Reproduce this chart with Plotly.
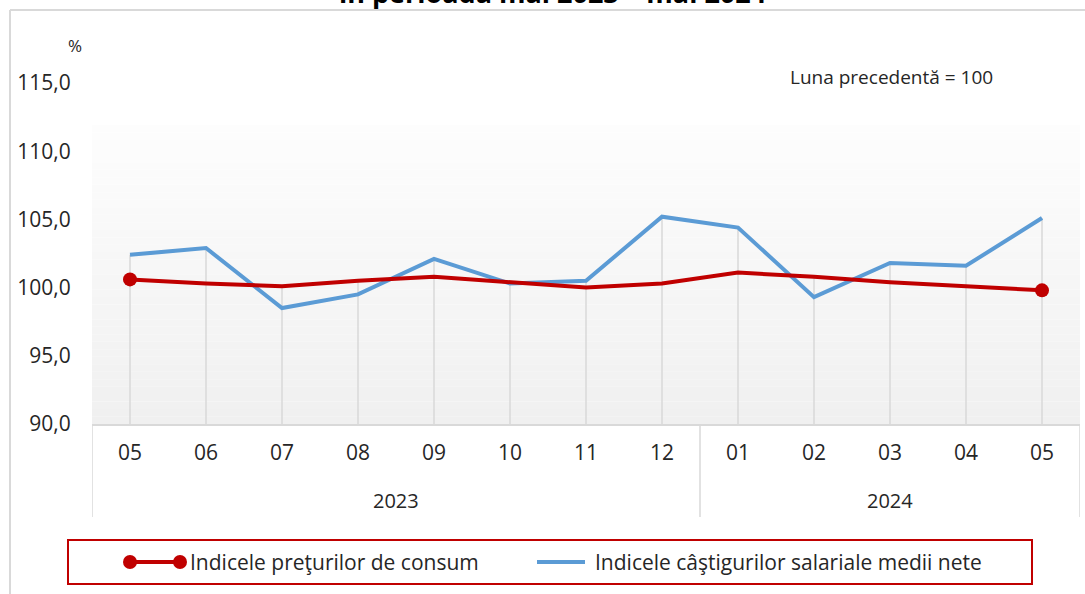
import plotly.graph_objects as go

# ---- data ----
years = ["2023"] * 8 + ["2024"] * 5
months = ["05", "06", "07", "08", "09", "10", "11", "12", "01", "02", "03", "04", "05"]
cpi = [100.6, 100.3, 100.1, 100.5, 100.8, 100.4, 100.0, 100.3, 101.1, 100.8, 100.4, 100.1, 99.8]
wages = [102.4, 102.9, 98.5, 99.5, 102.1, 100.3, 100.5, 105.2, 104.4, 99.3, 101.8, 101.6, 105.1]
cpi_name = "Indicele preţurilor de consum"
wage_name = "Indicele câştigurilor salariale medii nete"
y_ticks = [90, 95, 100, 105, 110, 115]

# ---- geometry (pixels) ----
W, H = 1085, 594
PL, PR, PT, PB = 92, 1080, 83, 424
FONT = "Open Sans"
TXT = "#262626"


def fx(px):
    return (px - PL) / (PR - PL)


def fy(py):
    return (PB - py) / (PB - PT)


xi = list(range(len(months)))
base = [y_ticks[0]] * len(months)
tops = [max(a, b) - y_ticks[0] for a, b in zip(cpi, wages)]

fig = go.Figure()

# drop lines from axis up to the higher series
fig.add_trace(go.Scatter(
    x=xi, y=base, mode="markers", marker=dict(size=0, opacity=0),
    error_y=dict(type="data", symmetric=False, array=tops, arrayminus=[0] * len(tops),
                 width=0, thickness=1.5, color="#d9d9d9"),
    hoverinfo="skip", showlegend=False,
))

fig.add_trace(go.Scatter(
    x=xi, y=wages, mode="lines", name=wage_name,
    line=dict(color="#5b9bd5", width=4), showlegend=False,
))

msize = [14] + [0] * (len(cpi) - 2) + [14]
fig.add_trace(go.Scatter(
    x=xi, y=cpi, mode="lines+markers", name=cpi_name,
    line=dict(color="#c00000", width=4),
    marker=dict(size=msize, color="#c00000", opacity=1, line=dict(width=0)),
    showlegend=False,
))

shapes = []
annotations = []
# gradient plot background
n = 40
g_top, g_bot = 125, PB
for i in range(n):
    t = i / (n - 1)
    c = int(round(253 - t * (253 - 240)))
    y0 = g_top + (g_bot - g_top) * i / n
    y1 = g_top + (g_bot - g_top) * (i + 1) / n
    shapes.append(dict(type="rect", xref="paper", yref="paper", x0=0, x1=1,
                       y0=fy(y1), y1=fy(y0), line=dict(width=0),
                       fillcolor=f"rgb({c},{c},{c})", layer="below"))

# year groups: labels and dividers
groups = []
for i, yv in enumerate(years):
    if not groups or groups[-1][0] != yv:
        groups.append([yv, i, i])
    else:
        groups[-1][2] = i
div_y0, div_y1 = fy(PB), fy(517)
bounds = [groups[0][1] - 0.5] + [g[2] + 0.5 for g in groups]
for b in bounds:
    shapes.append(dict(type="line", xref="x", yref="paper", x0=b, x1=b,
                       y0=div_y0, y1=div_y1, line=dict(color="#d9d9d9", width=1.5)))
for yv, a, b in groups:
    annotations.append(dict(text=yv, xref="x", yref="paper", x=(a + b) / 2, y=fy(500),
                            xanchor="center", yanchor="middle", showarrow=False,
                            font=dict(family=FONT, size=20, color=TXT)))

# outer chart frame
shapes.append(dict(type="line", xref="paper", yref="paper", x0=fx(10), x1=fx(1090),
                   y0=fy(10), y1=fy(10), line=dict(color="#d9d9d9", width=2)))
shapes.append(dict(type="line", xref="paper", yref="paper", x0=fx(10), x1=fx(10),
                   y0=fy(10), y1=fy(600), line=dict(color="#d9d9d9", width=2)))

# legend box
shapes.append(dict(type="rect", xref="paper", yref="paper", x0=fx(68), x1=fx(1032),
                   y0=fy(584), y1=fy(540), line=dict(color="#c00000", width=2)))
ly = 562
shapes.append(dict(type="line", xref="paper", yref="paper", x0=fx(130), x1=fx(180),
                   y0=fy(ly), y1=fy(ly), line=dict(color="#c00000", width=4)))
for cx in (130, 180):
    shapes.append(dict(type="circle", xref="paper", yref="paper",
                       x0=fx(cx - 7), x1=fx(cx + 7), y0=fy(ly + 7), y1=fy(ly - 7),
                       fillcolor="#c00000", line=dict(width=0)))
shapes.append(dict(type="line", xref="paper", yref="paper", x0=fx(537), x1=fx(585),
                   y0=fy(ly), y1=fy(ly), line=dict(color="#5b9bd5", width=4)))

annotations += [
    dict(text=cpi_name, xref="paper", yref="paper", x=fx(188), y=fy(ly),
         xanchor="left", yanchor="middle", showarrow=False,
         font=dict(family=FONT, size=21, color=TXT)),
    dict(text=wage_name, xref="paper", yref="paper", x=fx(593), y=fy(ly),
         xanchor="left", yanchor="middle", showarrow=False,
         font=dict(family=FONT, size=21, color=TXT)),
    dict(text="%", xref="paper", yref="paper", x=fx(75), y=fy(45),
         xanchor="center", yanchor="middle", showarrow=False,
         font=dict(family=FONT, size=17, color=TXT)),
    dict(text="Luna precedentă = 100", xref="paper", yref="paper", x=fx(891), y=fy(77),
         xanchor="center", yanchor="middle", showarrow=False,
         font=dict(family=FONT, size=19, color=TXT)),
    dict(text="<b>în perioada mai 2023 – mai 2024</b>", xref="paper", yref="paper",
         x=fx(551), y=fy(13), xanchor="center", yanchor="bottom", showarrow=False,
         font=dict(family=FONT, size=27, color="#000000")),
]

fig.update_layout(
    width=W, height=H,
    margin=dict(l=PL, r=W - PR, t=PT, b=H - PB),
    paper_bgcolor="white", plot_bgcolor="rgba(0,0,0,0)",
    separators=", ",
    font=dict(family=FONT, size=20, color=TXT),
    showlegend=False,
    shapes=shapes, annotations=annotations,
    xaxis=dict(range=[-0.5, 12.5], tickvals=xi, ticktext=months, showgrid=False,
               zeroline=False, showline=True, linecolor="#d9d9d9", linewidth=1.5,
               ticks="outside", ticklen=9, tickcolor="rgba(0,0,0,0)",
               tickfont=dict(family=FONT, size=21, color=TXT)),
    yaxis=dict(range=[90, 115], tickvals=y_ticks, tickformat=".1f",
               showgrid=False, zeroline=False, showline=False,
               ticks="outside", ticklen=16, tickcolor="rgba(0,0,0,0)",
               tickfont=dict(family=FONT, size=21, color=TXT)),
)

fig.write_html("out.html", config={"displayModeBar": False},
               post_script="document.body.style.margin='0';")
